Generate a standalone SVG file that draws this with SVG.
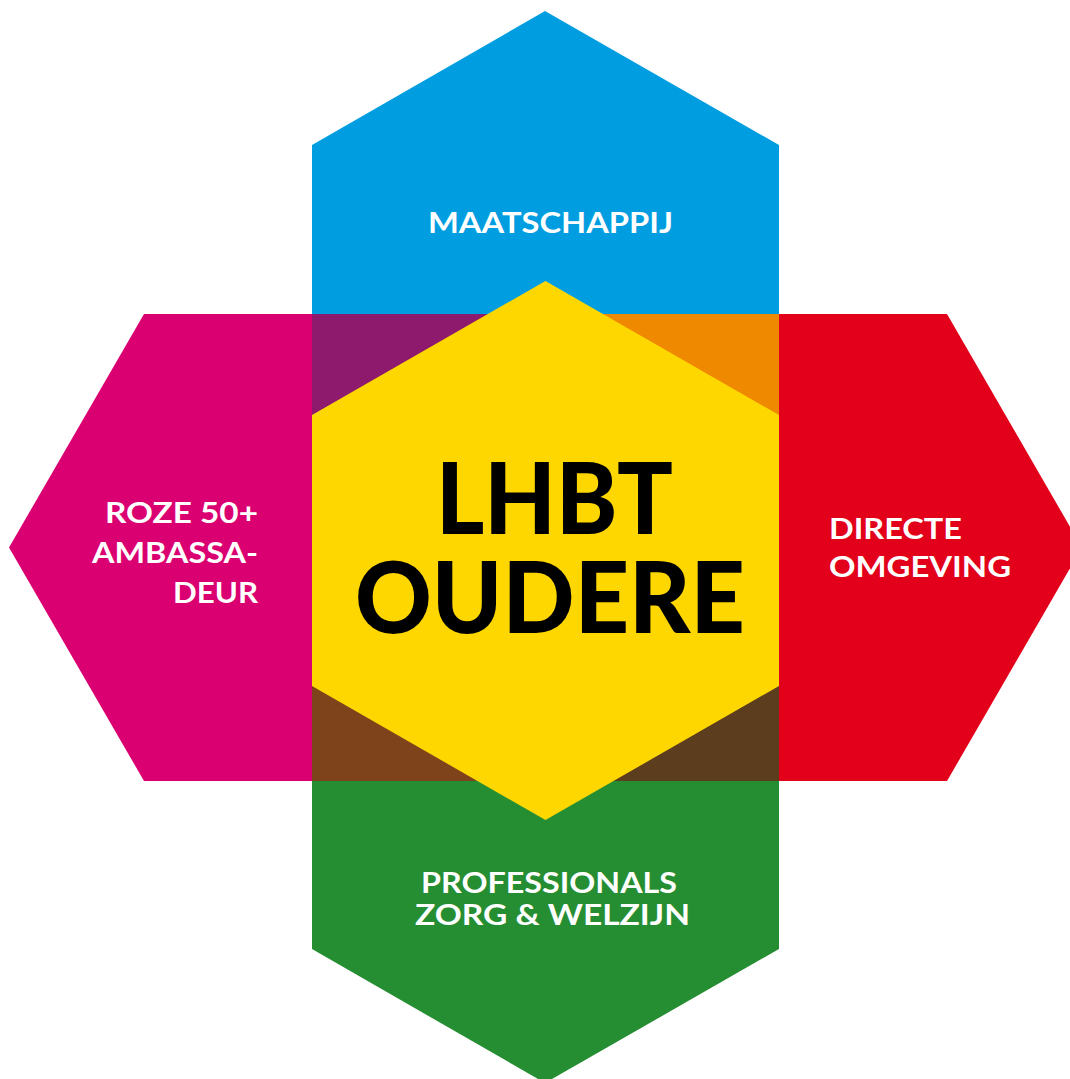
<svg xmlns="http://www.w3.org/2000/svg" width="1070" height="1079" viewBox="0 0 1070 1079">
<style>
.lbl{font-family:Lato,"Open Sans","Liberation Sans",sans-serif;font-weight:700;font-size:29px;fill:#fff}
.big{font-family:Lato,"Open Sans","Liberation Sans",sans-serif;font-weight:900;font-size:100px;fill:#000}
</style>
<rect width="1070" height="1079" fill="#fff"/>
<g id="maatschappij">
<polygon points="312,145 545,11 779,145 779,314 312,314" fill="#009EE0"/>
<text class="lbl" x="550.5" y="233" text-anchor="middle" textLength="245" lengthAdjust="spacingAndGlyphs">MAATSCHAPPIJ</text>
</g>
<g id="professionals">
<polygon points="312,781 779,781 779,949 545,1083 312,949" fill="#268E32"/>
<text class="lbl" x="549" y="893" text-anchor="middle" textLength="256" lengthAdjust="spacingAndGlyphs">PROFESSIONALS</text>
<text class="lbl" x="552.5" y="925" text-anchor="middle" textLength="275" lengthAdjust="spacingAndGlyphs">ZORG &amp; WELZIJN</text>
</g>
<g id="roze">
<polygon points="144,314 312,314 312,781 144,781 9,547.5" fill="#DB0071"/>
<text class="lbl" x="258" y="523" text-anchor="end" textLength="153" lengthAdjust="spacingAndGlyphs">ROZE 50+</text>
<text class="lbl" x="258" y="563" text-anchor="end" textLength="166" lengthAdjust="spacingAndGlyphs">AMBASSA-</text>
<text class="lbl" x="258" y="603" text-anchor="end" textLength="85" lengthAdjust="spacingAndGlyphs">DEUR</text>
</g>
<g id="directe">
<polygon points="779,314 947,314 1082,547.5 947,781 779,781" fill="#E2001A"/>
<text class="lbl" x="829" y="539" textLength="133" lengthAdjust="spacingAndGlyphs">DIRECTE</text>
<text class="lbl" x="829" y="577" textLength="182" lengthAdjust="spacingAndGlyphs">OMGEVING</text>
</g>
<g id="center">
<rect x="312" y="314" width="233.5" height="233.5" fill="#8E1A6E"/>
<rect x="545.5" y="314" width="233.5" height="233.5" fill="#EF8900"/>
<rect x="312" y="547.5" width="233.5" height="233.5" fill="#7E431B"/>
<rect x="545.5" y="547.5" width="233.5" height="233.5" fill="#5C3E1F"/>
<polygon points="545.5,281 779,415 779,686 545.5,820 312,686 312,415" fill="#FFD700"/>
<text class="big" x="554.5" y="534" text-anchor="middle" textLength="237" lengthAdjust="spacingAndGlyphs">LHBT</text>
<text class="big" x="550" y="633" text-anchor="middle" textLength="390" lengthAdjust="spacingAndGlyphs">OUDERE</text>
</g>
</svg>
